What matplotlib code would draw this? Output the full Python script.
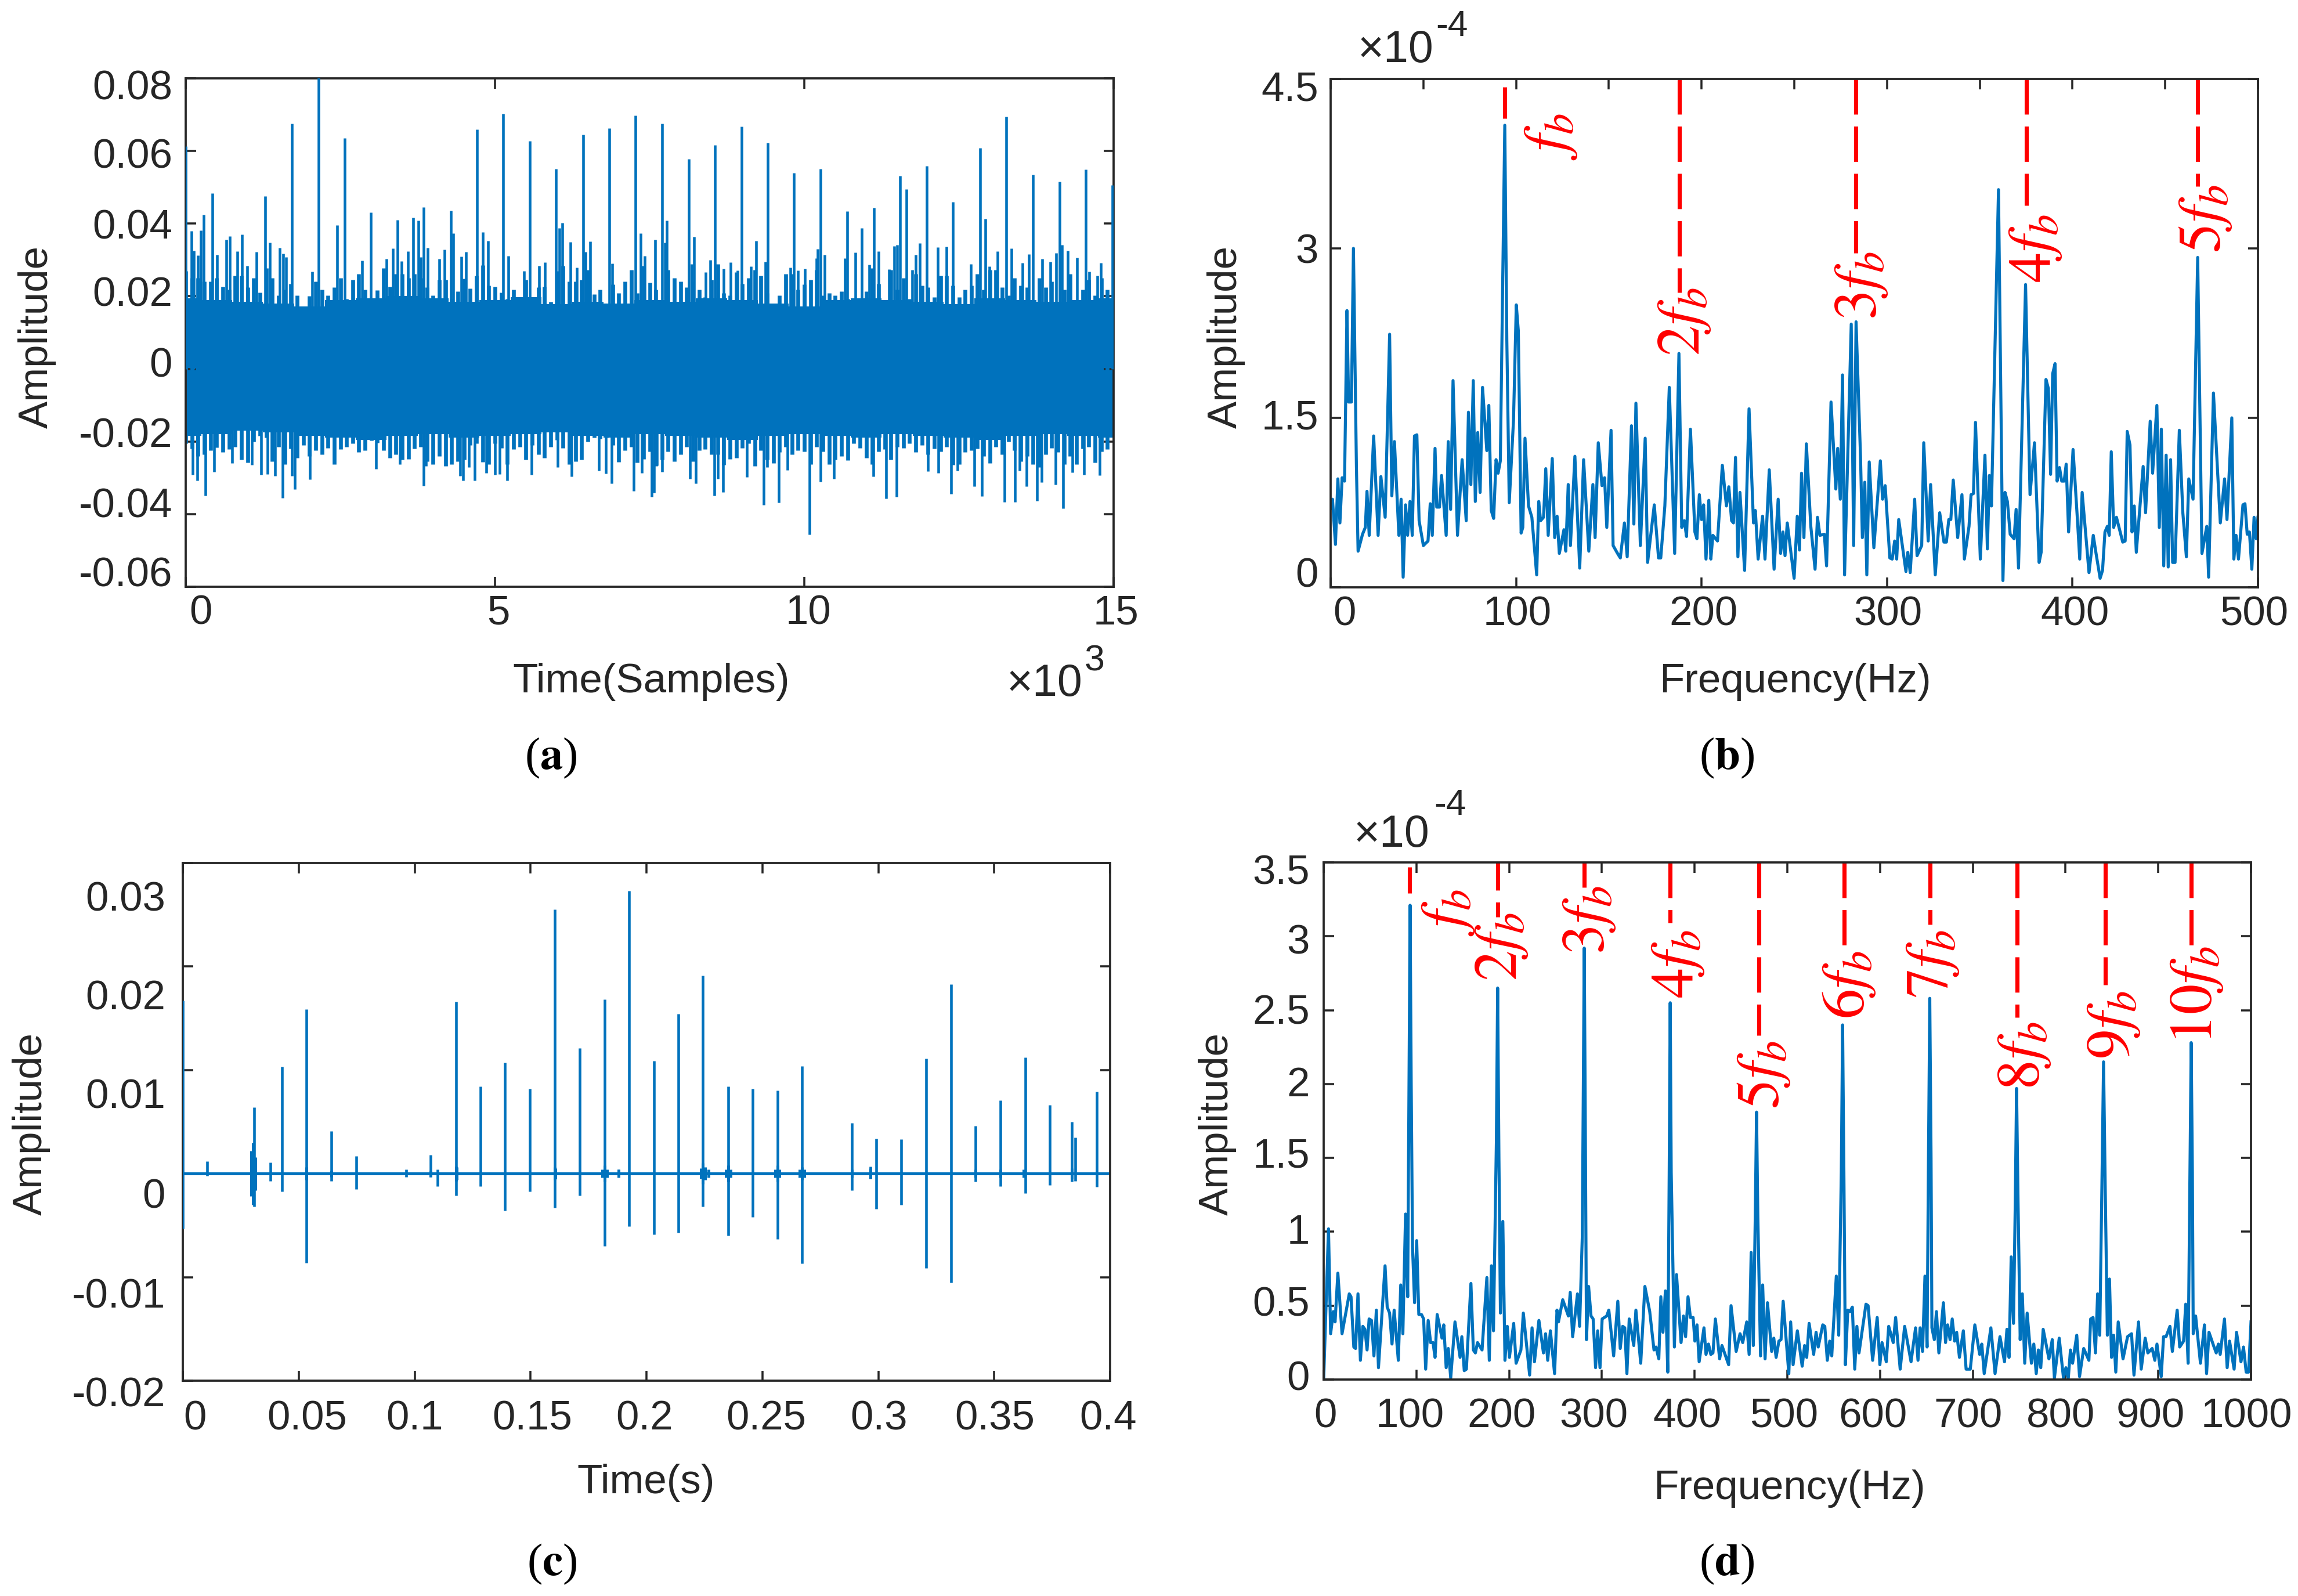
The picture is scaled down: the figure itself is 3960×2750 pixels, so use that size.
#!/usr/bin/env python3
# -*- coding: utf-8 -*-
"""
draw time signals and envelope spectra, four panels
"""
import numpy as np
import matplotlib
matplotlib.use('Agg')
import matplotlib.pyplot as plt
from matplotlib.transforms import Affine2D

plt.rcParams['font.family'] = ['Liberation Sans', 'DejaVu Sans']
plt.rcParams['mathtext.fontset'] = 'stix'

a_band_hi = [.0195, .0190, .0185, .0180, .0172, .0190, .0195, .0200, .0195, .0185, .0190, .0198, .0178, .0185, .0180, .0190,
             .0185, .0195, .0190, .0180, .0172, .0190, .0195, .0190, .0185, .0178, .0195, .0190, .0185, .0190, .0195]
a_band_lo = [-.0185, -.0180, -.0170, -.0175, -.0185, -.0190, -.0195, -.0185, -.0180, -.0190, -.0185, -.0180, -.0175, -.0185, -.0190, -.0180,
             -.0185, -.0190, -.0195, -.0185, -.0180, -.0185, -.0190, -.0180, -.0185, -.0190, -.0195, -.0185, -.0180, -.0185, -.0190]
a_mid_hi = [.0270, .0251, .0251, .0240, .0240, .0251, .0227, .0219, .0256, .0256, .0224, .0251, .0211, .0278, .0251, .0203,
            .0219, .0235, .0203, .0171, .0200, .0240, .0219, .0203, .0224, .0251, .0192, .0245, .0262, .0219, .0171, .0216,
            .0278, .0227, .0262, .0262, .0251, .0262, .0251, .0224, .0203, .0245, .0245, .0192, .0213, .0248, .0221, .0256,
            .0286, .0229, .0227, .0211, .0192, .0219, .0197, .0245, .0181, .0224, .0227, .0184, .0270, .0283, .0240, .0240,
            .0245, .0272, .0205, .0219, .0162, .0232, .0208, .0240, .0272, .0208, .0283, .0238,
            .0219, .0149, .0272, .0251, .0240, .0224, .0240, .0219, .0197, .0245, .0288, .0208, .0203, .0267, .0235, .0251,
            .0272, .0256, .0208, .0165, .0203, .0262, .0262, .0219, .0232, .0245, .0272, .0203, .0208, .0203, .0213, .0192,
            .0165, .0160, .0213, .0278, .0235, .0181, .0272, .0219, .0251, .0192, .0262, .0229, .0224, .0197, .0256, .0256,
            .0229, .0197, .0219, .0229, .0262, .0219, .0272, .0272, .0224, .0203, .0251, .0229, .0224, .0165, .0251, .0224,
            .0240, .0176, .0219, .0262, .0144, .0219, .0245, .0203, .0251, .0219]
a_mid_lo = [-.0205, -.0219, -.0240, -.0235, -.0225, -.0216, -.0230, -.0222, -.0215, -.0250, -.0258, -.0200, -.0185, -.0190, -.0255, -.0215,
            -.0262, -.0219, -.0246, -.0210, -.0240, -.0225, -.0235, -.0218, -.0262, -.0222, -.0215, -.0205, -.0230, -.0225, -.0198, -.0204,
            -.0225, -.0246, -.0235, -.0250, -.0248, -.0220, -.0215, -.0255, -.0262, -.0240, -.0268, -.0262, -.0255, -.0250, -.0210, -.0205,
            -.0256, -.0262, -.0205, -.0218, -.0262, -.0222, -.0215, -.0250, -.0210, -.0235, -.0246, -.0215, -.0195, -.0218, -.0262, -.0255,
            -.0250, -.0200, -.0190, -.0192, -.0190, -.0210, -.0256, -.0225, -.0215, -.0258, -.0248, -.0228,
            -.0268, -.0250, -.0228, -.0255, -.0235, -.0215, -.0255, -.0225, -.0222, -.0235, -.0235, -.0265, -.0248, -.0245, -.0218, -.0205,
            -.0268, -.0225, -.0250, -.0260, -.0230, -.0215, -.0235, -.0225, -.0228, -.0262, -.0215, -.0228, -.0262, -.0250, -.0240, -.0252,
            -.0205, -.0218, -.0246, -.0262, -.0228, -.0222, -.0250, -.0215, -.0218, -.0205, -.0230, -.0210, -.0235, -.0220, -.0228, -.0215,
            -.0265, -.0262, -.0230, -.0225, -.0220, -.0240, -.0260, -.0215, -.0235, -.0200, -.0225, -.0255, -.0240, -.0262, -.0270, -.0235,
            -.0218, -.0230, -.0262, -.0240, -.0262, -.0220, -.0215, -.0258, -.0228, -.0222]
a_up_t = [0, 97, 131, 195, 244, 288, 429, 507, 658, 716, 838, 906, 999, 1140, 1286, 1360, 1520, 1574, 1623, 1715, 2042, 2144, 2451,
          2568, 2851, 2997, 3250, 3348, 3426, 3489, 3591, 3674, 3762, 3801, 3850, 3908, 4103, 4186, 4283, 4327, 4459, 4527, 4712,
          4805, 4888, 5136, 5219, 5467, 5565, 5711, 5809, 5989, 6042, 6086, 6218, 6325, 6423, 6467, 6540, 6847, 6895, 7270, 7353,
          7421, 7585, 7697, 7750, 7780, 8131, 8180, 8219, 8409, 8482, 8551, 8692, 8804, 8917, 8985, 9141, 9219, 9375, 9410, 9775,
          9834, 9893, 10010, 10195, 10220, 10264, 10327, 10659, 10693, 10830, 10932, 11049, 11122, 11200, 11366, 11454, 11503,
          11552, 11649, 11747, 11801, 11869, 11976, 12162, 12298, 12406, 12689, 12840, 12923, 12996, 13123, 13265, 13353, 13528,
          13626, 13694, 13850, 13982, 14075, 14124, 14168, 14256, 14407, 14548, 14602, 14739, 14797, 14978]
a_up_v = [.0613, .0380, .0326, .0313, .0381, .0424, .0484, .0314, .0355, .0365, .0323, .0370, .0283, .0322, .0475, .0347, .0334, .0317, .0308, .0675,
          .0268, .0802, .0396, .0636, .0298, .0431, .0303, .0332, .0410, .0296, .0324, .0417, .0408, .0307, .0446, .0334, .0303, .0329, .0436, .0373,
          .0310, .0322, .0660, .0376, .0353, .0703, .0311, .0270, .0627, .0283, .0294, .0551, .0388, .0402, .0350, .0279, .0645, .0322, .0351, .0663,
          .0290, .0697, .0374, .0311, .0356, .0676, .0347, .0408, .0578, .0288, .0364, .0267, .0299, .0617, .0275, .0293, .0271, .0668, .0282, .0353,
          .0295, .0622, .0279, .0540, .0271, .0275, .0305, .0330, .0551, .0314, .0305, .0434, .0321, .0388, .0287, .0444, .0323, .0274, .0338, .0342,
          .0531, .0495, .0272, .0314, .0346, .0559, .0335, .0337, .0460, .0289, .0609, .0413, .0282, .0323, .0695, .0331, .0291, .0315, .0535, .0303,
          .0295, .0319, .0516, .0341, .0326, .0306, .0549, .0268, .0256, .0291, .0506]
a_dn_t = [117, 185, 317, 463, 746, 1072, 1218, 1325, 1447, 1569, 1715, 1764, 2003, 3080, 3465, 3845, 3884, 4439, 4488, 4581, 4673, 4863, 5000,
          5073, 5199, 5594, 6013, 6242, 6676, 6793, 6881, 7246, 7378, 7534, 7570, 7619, 7702, 8155, 8248, 8546, 8604, 8682, 9073, 9341, 9400,
          9585, 9732, 10088, 10259, 10483, 11113, 11327, 11493, 11996, 12167, 12377, 12474, 12752, 12874, 13240, 13406, 13479, 13592, 13762,
          13836, 14060, 14187, 14338, 14524, 14773]
a_dn_v = [-.0291, -.0308, -.0349, -.0284, -.0259, -.0265, -.0292, -.0290, -.0295, -.0355, -.0295, -.0332, -.0304, -.0275, -.0262, -.0322, -.0268,
          -.0294, -.0308, -.0271, -.0308, -.0286, -.0292, -.0290, -.0308, -.0291, -.0270, -.0297, -.0281, -.0288, -.0315, -.0336, -.0286, -.0353,
          -.0341, -.0266, -.0284, -.0302, -.0316, -.0349, -.0302, -.0339, -.0298, -.0375, -.0270, -.0369, -.0279, -.0456, -.0311, -.0302, -.0296,
          -.0357, -.0352, -.0282, -.0286, -.0344, -.0281, -.0323, -.0350, -.0367, -.0366, -.0280, -.0324, -.0363, -.0313, -.0319, -.0384, -.0285,
          -.0292, -.0293]

# panel b: raw spectrum, peaks and valleys, amplitude in units of 1e-4
b_freq = [0, 1, 2.6, 3.9, 5, 6.2, 7.5, 8.8, 9.7, 11.2, 12.3, 13.9, 14.8, 17.2, 18.7, 19.6, 20.8, 23.2, 25.6, 27.1, 29.4, 31.8, 33, 34.4, 36.8, 38,
          39.1, 40.4, 41.5, 42.8, 44, 45.2, 46.5, 47.7, 50, 52.5, 53.7, 54.8, 56.3, 57.2, 58.7, 59.8, 62.3, 63.4, 64.7, 66, 68.4, 70.9, 73.1, 74.3,
          75.6, 76.9, 78, 79.3, 80.6, 81.9, 84.2, 85.3, 86.6, 87.9, 89.2, 90.3, 91.5, 93.9, 95, 96.3, 98.6, 100.1, 101.2, 102.7, 103.6, 104.8,
          106.7, 108.5, 111.1, 112.2, 113.2, 114.8, 116, 117.3, 119.5, 120.8, 122.1, 123.3, 125.8, 126.8, 128.1, 129.3, 131.7, 134.3, 136.4, 139.2,
          141.4, 142.6, 144.3, 146.3, 147.7, 148.9, 151.2, 152.3, 154.7, 156.2, 158.4, 159.9, 162.2, 163.5, 164.6, 167, 169.6, 170.9, 174.5, 176.8,
          178, 180.2, 182.6, 185.5, 187.8, 189.3, 190.7, 191.9, 194, 196.4, 197.5, 198.8, 200, 201.1, 202.4, 203.9, 205, 206.1, 208.6, 211.2, 213.4,
          214.7, 216.2, 217.2, 218.3, 219.6, 220.7, 223.2, 225.6, 228, 229, 230.5, 232.9, 234.2, 236.5, 239.1, 241.3, 242.6, 243.9, 245, 246.2, 249.9,
          251.6, 252.8, 253.9, 255.2, 256.5, 258.9, 261.2, 262.5, 263.8, 266.2, 267.4, 269.8, 272.4, 273.4, 274.8, 276, 277.1, 278.4, 280.7, 282,
          283.3, 285.7, 286.7, 288, 289.1, 290.4, 292.9, 296.4, 297.6, 299, 301.5, 302.8, 304.1, 305.2, 306.3, 310.2, 311.2, 312.5, 314.9, 316.2,
          318.7, 319.8, 322.2, 323.5, 326, 328.4, 330.7, 332, 333.3, 334.4, 335.7, 338.1, 340.4, 341.7, 344.2, 345.3, 346.6, 347.7, 350.3, 352.8,
          354.1, 355.2, 356.3, 360.1, 362.5, 363.6, 364.9, 366.4, 368.5, 369.6, 370.9, 374.7, 377.1, 379.5, 382, 383.1, 385.7, 387, 388.2, 389.3,
          390.6, 391.7, 393, 394.2, 395.5, 396.6, 397.9, 400.3, 402.8, 403.9, 405.2, 408.9, 411.2, 412.7, 414.9, 416.2, 417.5, 418.8, 419.8, 420.9,
          422.2, 423.7, 427.1, 428.4, 429.5, 431, 432.1, 433.3, 434.4, 438.1, 439.4, 441.9, 443.2, 445.5, 446.8, 447.9, 449.2, 450.5, 451.6, 452.9,
          454, 455.3, 457.6, 459.5, 461.4, 462.7, 465, 467.5, 469.8, 472.4, 473.4, 476, 479.7, 482, 483.3, 485.9, 487, 488.2, 489.5, 491.9, 493,
          494.2, 495.4, 496.7, 497.9, 499.1, 500]
b_amp = [.7, .78, .38, .96, .57, .97, .94, 2.45, 1.64, 1.64, 3.0, 1.07, .32, .47, .53, .85, .46, 1.34, .46, .98, .62, 2.24, .81, 1.29, .46, .78,
         .09, .73, .46, .76, .46, 1.34, 1.35, .59, .37, .41, .74, .46, 1.23, .71, .71, .99, .46, 1.29, .69, 1.83, .46, 1.13, .59, 1.55,
         .91, 1.83, .76, 1.37, .84, 1.77, 1.21, 1.61, .68, .61, 1.13, 1.01, 1.12, 4.09, 2.19, .75, 1.48, 2.5, 2.27, .48, .53, 1.32,
         .72, .62, .11, .76, .59, .62, 1.05, .46, 1.14, .44, .63, .30, .51, .32, .91, .37, 1.16, .17, 1.13, .32,
         .91, .44, 1.28, .90, .97, .53, 1.39, .37, .30, .26, .57, .27, 1.43, .56, 1.63, .37, 1.32, .22, .73, .26,
         .26, .72, 1.77, .30, 2.07, .53, .59, .45, 1.40, .49, .43, .82, .60, .73, .25, .77, .25, .46, .41, 1.08, .72,
         .89, .59, .57, 1.15, .27, .84, .15, 1.58, .57, .68, .25, .63, .25, 1.04, .16, .78, .30, .49, .28, .57, .08,
         .63, .33, 1.01, .44, 1.27, .54, .16, .62, .46, .47, .19, 1.64, .87, 1.23, .78, 1.88, .11, .90, 2.33, .37,
         2.35, 1.16, .44, .93, .11, 1.11, .35, 1.12, .78, .90, .26, .25, .41, .25, .60, .14, .31, .13, .78, .28,
         .37, 1.28, .41, .91, .11, .66, .40, .40, .60, .60, .95, .44, .82, .25, .54, .82, .83, 1.46, .25, 1.17,
         .34, .99, .72, 3.52, .06, .84, .76, .47, .43, .69, .17, 2.68, .82, 1.28, .22, .31, 1.84, 1.76, 1.0, 1.89,
         1.98, .94, 1.06, .94, .94, 1.09, .49, 1.22, .56, .25, .84, .13, .46, .30, .08, .15, .49, .54, .46, 1.20,
         .53, .62, .40, .41, 1.38, 1.26, .49, .72, .31, 1.07, .66, 1.47, 1.01, 1.61, .53, 1.40, .19, 1.17, .18, 1.13,
         .22, .22, 1.39, .66, .27, .96, .78, 2.92, .30, .54, .09, 1.72, .57, .96, .60, 1.50, .25, .46, .25, .73, .74,
         .47, .49, .16, .62, .43, .62]
b_mark_freq = [93.9, 188, 283.1, 375.2, 467.5]
b_mark_end = [4.15, 2.61, 2.96, 3.38, 3.55]
b_mark_top = [4.43, 4.5, 4.5, 4.5, 4.5]
b_mark_text = ['$f_b$', '$2f_b$', '$3f_b$', '$4f_b$', '$5f_b$']

# panel c: filtered signal, impulse tips
c_time = [0, .0106, .0308, .0379, .0427, .0533, .0642, .0748, .0963, .1069, .1098, .1178, .1284, .139, .1496, .1605, .1711, .182, .1881, .1926,
          .2032, .2138, .2244, .2353, .2459, .2565, .2671, .2886, .2966, .2992, .3098, .3207, .3313, .3419, .3528, .3634, .374, .3836, .3849, .3942]
c_top = [.0167, .0012, .0064, .0011, .0103, .0159, .0041, .0017, .0004, .0018, .0004, .0166, .0084, .0107, .0082, .0255, .0121, .0168, .0004, .0273,
         .0109, .0154, .0191, .0084, .0082, .0080, .0104, .0049, .0007, .0034, .0033, .0111, .0183, .0046, .0071, .0112, .0066, .0050, .0035, .0079]
c_bot = [-.0053, -.0002, -.0032, -.0007, -.0017, -.0086, -.0007, -.0015, -.0003, -.0003, -.0012, -.0021, -.0012, -.0036, -.0017, -.0033, -.0021, -.0070, -.0002, -.0051,
         -.0059, -.0057, -.0032, -.0060, -.0042, -.0063, -.0087, -.0016, -.0005, -.0034, -.0030, -.0091, -.0105, -.0008, -.0012, -.0019, -.0011, -.0008, -.0007, -.0013]
c_burst_time = [.0296, .0302, .0314, .0533, .0642, .1069, .1178, .1181, .1605, .1608, .1811, .182, .1829, .1881, .2235, .2244, .2253, .2268, .2344, .2353, .2362,
                .2556, .2565, .2574, .2662, .2671, .2680, .2886, .2966, .3419, .3528, .3628, .3836]
c_burst_amp = [.0022, .0030, .0016, .0006, .0003, .0003, .0007, .0006, .0006, .0005, .0004, .0008, .0004, .0004, .0005, .0010, .0006, .0004, .0004, .0008, .0004,
               .0004, .0008, .0004, .0004, .0006, .0004, .0004, .0005, .0004, .0004, .0004, .0005]

# panel d: enhanced spectrum, amplitude in units of 1e-4
d_freq = [0, 5.2, 7.5, 10.4, 12.3, 15.3, 19.8, 27.6, 29.5, 32.5, 34.4, 37, 39.6, 42.2, 44.5, 46.8, 49, 51.6, 54.2, 56.8, 59.1, 66.2, 68.5, 71.1, 73.7,
          76, 80.5, 83.1, 85.4, 88.3, 90.6, 92, 93.2, 94.4, 95.8, 98, 100.3, 102.6, 105.5, 107.8, 110, 112.7, 115.3, 117.9, 120.1, 122.4, 127.6, 129.5,
          132.1, 134.4, 137, 141.6, 147.1, 149, 151.6, 153.9, 158.8, 161.4, 163.6, 165.9, 170.8, 176, 178.6, 180.9, 183.1, 186.2, 187.6, 189, 190.6,
          193.2, 195.5, 198, 200.3, 204.9, 207.5, 212.7, 215.3, 222.1, 224.7, 227.3, 232.1, 237, 239.3, 241.6, 244.5, 249, 251.6, 253.2, 257.8, 263.9,
          265.9, 268.5, 273.7, 276, 278.9, 280, 281, 282, 283.4, 285.7, 288.3, 290.6, 293.2, 295.5, 298, 300.3, 305.2, 307.5, 312.7, 317.2, 319.8,
          322.4, 324.7, 327, 329.5, 334.4, 336.7, 341.9, 346.4, 351.6, 356.2, 358.4, 361.4, 363.6, 365.9, 368.5, 371.1, 372.6, 373.7, 374.8, 378.2,
          380.5, 385.4, 388, 390.3, 392.9, 395.5, 398.4, 400.3, 402.6, 404.9, 410.1, 412.3, 415, 417.5, 419.8, 422.4, 427, 429.5, 436.7, 439.3, 444.8,
          449, 451.9, 456.2, 458.8, 461, 463.3, 465.4, 466.8, 468.2, 471.1, 473.4, 476, 478.6, 483.1, 485.4, 487.9, 490.9, 493.2, 495.5, 501.6, 503.6,
          506.2, 510.8, 516, 518.6, 520.9, 523.5, 528.4, 531, 533.3, 538.2, 540.4, 543.1, 545.7, 547.9, 552.8, 555.4, 558.2, 559.6, 561, 562.6, 565.2,
          567.5, 570.1, 572.7, 575, 577.3, 584.8, 587.1, 592, 596.9, 599.8, 602.1, 606.7, 609.3, 614.2, 616.8, 621.7, 626.5, 633.4, 638.3, 640.9,
          643.2, 645.8, 648.4, 650.7, 652.2, 653.6, 655, 655.9, 658.5, 660.8, 663.4, 668.3, 670.6, 672.9, 675.5, 677.8, 680.4, 682.6, 685.6, 689.8,
          692.8, 697.3, 702.2, 707.4, 709.7, 712.3, 719.5, 724, 729.3, 734.2, 736.8, 739.1, 741.4, 743.9, 745.8, 747.2, 748.8, 751.1, 753.4, 756,
          758.6, 763.2, 765.8, 768.4, 770.7, 773.3, 775.9, 782.1, 785.7, 788, 793.2, 797.8, 800.4, 803, 805.3, 807.6, 812.1, 815.1, 819.6, 825.2,
          827.1, 829.7, 832.3, 834.6, 836.9, 839.2, 841, 842.8, 845.1, 847.4, 849.6, 851.9, 854.2, 856.8, 862, 866.9, 871.2, 873.8, 878.7, 881.6,
          885.9, 888.8, 893.4, 896.3, 898.6, 903.2, 905.7, 908.4, 912.6, 915.2, 920.4, 923.1, 927.3, 929.6, 932.2, 934.2, 935.5, 936.8, 937.7, 940.3,
          945.5, 949.8, 952.1, 954.7, 959.6, 962.5, 964.8, 966.8, 971.4, 974.3, 976.9, 981.8, 984.4, 989.2, 991.9, 994.8, 997.4, 1000]
d_amp = [0, 1.02, .31, .46, .39, .72, .31, .58, .56, .22, .21, .58, .13, .36, .34, .20, .41, .40, .16, .47, .08, .77, .49, .45, .24,
         .47, .13, .64, .31, 1.12, .56, 2.0, 3.21, 2.0, .9, .52, .94, .44, .44, .41, .07, .40, .25, .25, .15, .44, .28, .37,
         .08, .21, .01, .39, .15, .29, .06, .07, .65, .20, .18, .25, .20, .69, .13, .77, .33, 1.6, 2.65, 1.5, .45,
         1.07, .13, .36, .15, .38, .11, .20, .45, .03, .35, .12, .40, .18, .31, .13, .33, .04, .47, .39, .54, .43,
         .59, .29, .58, .36, .97, 2.0, 2.92, 1.9, .27, .63, .43, .41, .08, .33, .08, .41, .43, .47, .16, .53, .21,
         .36, .35, .04, .41, .23, .47, .11, .63, .46, .20, .22, .14, .56, .32, .60, .05, 1.4, 2.55, 1.4, .22,
         .71, .25, .43, .29, .56, .42, .42, .26, .37, .12, .35, .17, .24, .17, .18, .41, .14, .23, .10, .50, .19,
         .31, .25, .39, .17, .86, .23, 1.1, 1.81, 1.1, .16, .64, .14, .52, .19, .28, .15, .26, .27, .53, .04, .39,
         .10, .33, .09, .23, .15, .38, .17, .32, .22, .37, .36, .13, .26, .16, .70, .30, 1.4, 2.40, 1.4, .10, .47,
         .46, .49, .07, .36, .18, .51, .50, .13, .42, .10, .25, .12, .36, .25, .42, .07, .36, .12, .35, .13,
         .35, .19, .70, .22, 1.5, 2.58, 1.5, .35, .27, .46, .18, .52, .25, .37, .27, .41, .26, .32, .15, .33,
         .07, .07, .37, .17, .24, .04, .35, .04, .29, .12, .34, .15, .83, .38, 1.2, 1.97, 1.2, .27, .58, .11,
         .45, .11, .24, .04, .20, .08, .34, .14, .27, .01, .28, .01, .08, .01, .20, .11, .30, .02, .21, .13,
         .41, .42, .18, .58, .30, 1.3, 2.15, 1.3, .30, .68, .15, .30, .05, .39, .14, .29, .31, .03, .39, .07,
         .28, .18, .21, .13, .24, .02, .29, .29, .36, .19, .47, .22, .26, .51, .11, 1.4, 2.28, 1.4, .31, .43,
         .11, .37, .04, .32, .23, .18, .24, .17, .41, .08, .26, .07, .32, .12, .22, .05, .05, .39]
d_mark_freq = [92.8, 188, 281, 373.4, 469.3, 561.3, 654, 747.6, 842.8, 935.5]
d_mark_end = [3.29, 3.13, 3.33, 3.09, 2.33, 2.93, 3.08, 2.45, 2.67, 2.94]
d_mark_top = [3.47, 3.55, 3.5, 3.5, 3.5, 3.5, 3.5, 3.5, 3.5, 3.5]
d_mark_text = ['$f_b$', '$2f_b$', '$3f_b$', '$4f_b$', '$5f_b$', '$6f_b$', '$7f_b$', '$8f_b$', '$9f_b$', '$10f_b$']

W, H = 3960, 2750
DPI = 300
BLUE = '#0072bd'
RED = '#ff0000'
DARK = '#262626'
FS = 17

fig = plt.figure(figsize=(W / DPI, H / DPI), dpi=DPI)


def make_axes(x0, x1, y0, y1, xlim, ylim, xticks, yticks):
    # pixel box of the reference, y counted from the top
    ax = fig.add_axes([x0 / W, 1 - y1 / H, (x1 - x0) / W, (y1 - y0) / H])
    ax.set_xlim(xlim)
    ax.set_ylim(ylim)
    ax.set_xticks(xticks)
    ax.set_yticks(yticks)
    ax.tick_params(direction='in', length=4.2, width=0.85, top=True, right=True, pad=0, colors=DARK, labelsize=FS)
    for s in ax.spines.values():
        s.set_linewidth(0.9)
        s.set_color(DARK)
    return ax


def shift_labels(ax, xlabels, xcenters, xrow, ylabels, yrow, ycenters, box):
    # the tick labels of the reference sit off their ticks, move each one
    x0, x1, y0, y1 = box
    ax.set_xticklabels(xlabels)
    ax.set_yticklabels(ylabels)
    xlo, xhi = ax.get_xlim()
    ylo, yhi = ax.get_ylim()
    for lab, tk, cx in zip(ax.get_xticklabels(), ax.get_xticks(), xcenters):
        px = x0 + (tk - xlo) / (xhi - xlo) * (x1 - x0)
        lab.set_va('center')
        lab.set_transform(lab.get_transform() + Affine2D().translate(cx - px, -(xrow - y1)))
    for lab, tk, cy in zip(ax.get_yticklabels(), ax.get_yticks(), ycenters):
        py = y1 - (tk - ylo) / (yhi - ylo) * (y1 - y0)
        lab.set_va('center')
        lab.set_transform(lab.get_transform() + Affine2D().translate(yrow - x0, py - cy))


def put(x, y, s, **kw):
    kw.setdefault('color', DARK)
    kw.setdefault('fontsize', FS)
    kw.setdefault('ha', 'center')
    kw.setdefault('va', 'center')
    fig.text(x / W, 1 - y / H, s, **kw)


def panel_tag(x, y, s):
    put(x, y, '(' + r'$\mathbf{' + s + '}$' + ')', color='black', family='Liberation Serif', fontsize=19)


def mark_lines(ax, freq, top, end):
    for f, t, e in zip(freq, top, end):
        ax.plot([f, f], [t, e], color=RED, lw=1.7, dashes=(8.6, 2.9), dash_capstyle='butt')


def mark_text(ax, xs, ys, labels):
    for x, y, s in zip(xs, ys, labels):
        ax.text(x, y, s, color=RED, fontsize=25, rotation=90, ha='center', va='center')


# panel a
box = (320, 1919, 135, 1011)
ax = make_axes(*box, (0, 15000), (-0.06, 0.08), [0, 5000, 10000, 15000], [-.06, -.04, -.02, 0, .02, .04, .06, .08])
ax.fill_between(np.arange(len(a_band_hi)) * 500, a_band_lo, a_band_hi, step='mid', color=BLUE, lw=0)
mid_t = np.arange(len(a_mid_hi)) * 100
ax.vlines(mid_t, a_mid_lo, a_mid_hi, color=BLUE, lw=1.6)
ax.vlines(a_up_t, 0, a_up_v, color=BLUE, lw=1.1, zorder=3)
ax.vlines(a_dn_t, a_dn_v, 0, color=BLUE, lw=1.1)
shift_labels(ax, ['0', '5', '10', '15'], [346, 859, 1393, 1923], 1057,
             ['-0.06', '-0.04', '-0.02', '0', '0.02', '0.04', '0.06', '0.08'], 297,
             [993, 874, 753, 631, 510, 394, 272, 154], box)
put(1122, 1175, 'Time(Samples)')
put(64, 580, 'Amplitude', rotation=90)
put(1800, 1178, '\u00d710', fontsize=18.5)
put(1886, 1139, '3', fontsize=15)
panel_tag(949, 1306, 'a')

# panel b
box = (2293, 3891, 136, 1012)
ax = make_axes(*box, (0, 500), (0, 4.5), [0, 100, 200, 300, 400, 500], [0, 1.5, 3, 4.5])
ax.tick_params(top=False)
sec = ax.secondary_xaxis('top')
sec.set_xticks(np.arange(0, 501, 50))
sec.tick_params(direction='in', length=4.2, width=0.85, labeltop=False, colors=DARK)
sec.spines['top'].set_visible(False)
ax.plot(b_freq, b_amp, color=BLUE, lw=1.25)
mark_lines(ax, b_mark_freq, b_mark_top, b_mark_end)
mark_text(ax, [118.6, 190.7, 286.2, 379.9, 471.6], [3.99, 2.35, 2.67, 3.0, 3.26], b_mark_text)
shift_labels(ax, ['0', '100', '200', '300', '400', '500'], [2317, 2615, 2936, 3253, 3576, 3884], 1060,
             ['0', '1.5', '3', '4.5'], 2272, [993, 722, 435, 156], box)
put(3093, 1175, 'Frequency(Hz)')
put(2113, 580, 'Amplitude', rotation=90)
put(2405, 87, '\u00d710', fontsize=18.5)
put(2502, 46, '-4', fontsize=15)
panel_tag(2976, 1306, 'b')

# panel c
box = (315, 1913, 1487, 2379)
ax = make_axes(*box, (0, 0.4), (-0.02, 0.03), np.arange(0, 0.401, 0.05), [-.02, -.01, 0, .01, .02, .03])
ax.axhline(0, color=BLUE, lw=1.2)
ax.vlines(c_time, c_bot, c_top, color=BLUE, lw=1.1, zorder=3)
ax.vlines(c_burst_time, -np.array(c_burst_amp), c_burst_amp, color=BLUE, lw=1.2)
shift_labels(ax, ['0', '0.05', '0.1', '0.15', '0.2', '0.25', '0.3', '0.35', '0.4'],
             [336, 529, 714, 917, 1111, 1320, 1514, 1714, 1910], 2445,
             ['-0.02', '-0.01', '0', '0.01', '0.02', '0.03'], 285,
             [2405, 2235, 2064, 1891, 1722, 1551], box)
put(1113, 2555, 'Time(s)')
put(54, 1936, 'Amplitude', rotation=90)
panel_tag(951, 2695, 'c')

# panel d
box = (2281, 3879, 1486, 2377)
ax = make_axes(*box, (0, 1000), (0, 3.5), np.arange(0, 1001, 100), np.arange(0, 3.51, 0.5))
ax.plot(d_freq, d_amp, color=BLUE, lw=1.25)
mark_lines(ax, d_mark_freq, d_mark_top, d_mark_end)
mark_text(ax, [134.4, 191.8, 286.2, 382, 474.8, 566.8, 657, 755.5, 852, 941.8],
          [3.16, 2.93, 3.11, 2.81, 2.06, 2.67, 2.81, 2.19, 2.40, 2.60], d_mark_text)
shift_labels(ax, ['0', '100', '200', '300', '400', '500', '600', '700', '800', '900', '1000'],
             [2284, 2430, 2588, 2746, 2907, 3074, 3228, 3392, 3551, 3706, 3871], 2442,
             ['0', '0.5', '1', '1.5', '2', '2.5', '3', '3.5'], 2257,
             [2377, 2249, 2125, 1993, 1871, 1746, 1625, 1505], box)
put(3083, 2565, 'Frequency(Hz)')
put(2098, 1936, 'Amplitude', rotation=90)
put(2398, 1438, '\u00d710', fontsize=18.5)
put(2499, 1388, '-4', fontsize=15)
panel_tag(2976, 2695, 'd')

fig.savefig('out.png')
